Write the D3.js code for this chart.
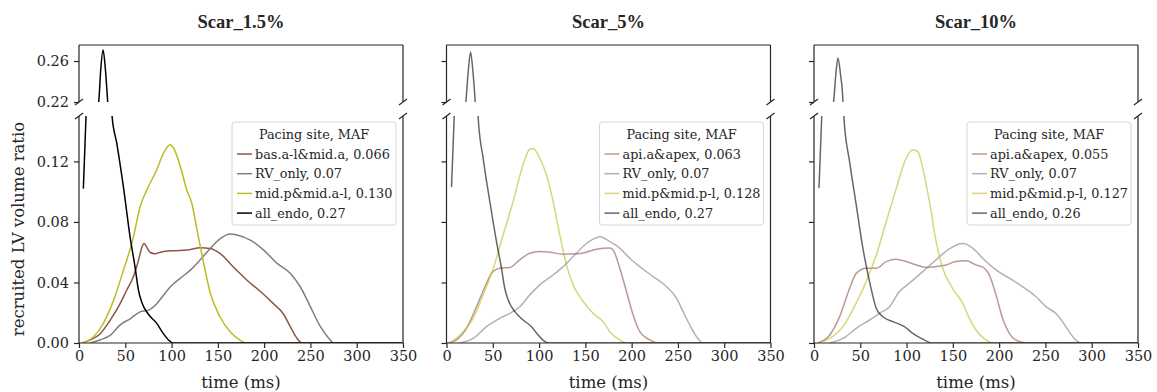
<!DOCTYPE html>
<html>
<head>
<meta charset="utf-8">
<script src="https://cdn.jsdelivr.net/npm/d3@7.9.0/dist/d3.min.js"></script>
<style>
  body { margin: 0; background: #fff; }
  svg { display: block; }
  text { font-family: "DejaVu Serif", serif; fill: #262626; }
  .title { font-family: "Liberation Serif", "Times New Roman", serif; font-weight: bold; font-size: 18.5px; }
</style>
</head>
<body>
<div id="chart"></div>
<script>
// --- data (time in ms, recruited LV volume ratio) ---
const titles = ["Scar_1.5%", "Scar_5%", "Scar_10%"];
const seriesNames = [
  ["bas.a-l&mid.a, 0.066", "RV_only, 0.07", "mid.p&mid.a-l, 0.130", "all_endo, 0.27"],
  ["api.a&apex, 0.063", "RV_only, 0.07", "mid.p&mid.p-l, 0.128", "all_endo, 0.27"],
  ["api.a&apex, 0.055", "RV_only, 0.07", "mid.p&mid.p-l, 0.127", "all_endo, 0.26"]
];
const xTicks = [0, 50, 100, 150, 200, 250, 300, 350];
const yTicksLow = [0, 0.04, 0.08, 0.12];
const yTicksHigh = [0.22, 0.26];

// Scar 1.5%
const s1Site = [[3,0],[12,0.002],[22.7,0.006],[33.6,0.015],[44.4,0.026],[51.6,0.035],[58.8,0.044],[64,0.054],[67.5,0.0625],
  [70.4,0.0658],[73,0.0635],[77,0.0598],[82,0.059],[88,0.060],[102,0.061],[116.5,0.0614],[131,0.063],[141.8,0.0625],
  [152.6,0.059],[167,0.050],[181.5,0.0415],[196,0.034],[210,0.026],[221,0.019],[228.4,0.0106],[235.6,0.003],[241,0],[350,0]];
const s1RV = [[12,0],[22.7,0.002],[33.6,0.005],[44.4,0.012],[55.2,0.016],[66,0.0206],[75,0.0217],[84,0.026],[91.3,0.0316],
  [98.5,0.037],[109.3,0.0427],[120,0.048],[131,0.055],[141.8,0.0625],[152.6,0.069],[163.5,0.072],[170.7,0.0714],[185,0.068],
  [199.5,0.0614],[214,0.0526],[228.4,0.046],[239.2,0.037],[250,0.0239],[261,0.0106],[270,0.003],[275,0],[350,0]];
const s1Mid = [[3,0],[15.5,0.004],[26.3,0.013],[37.2,0.028],[48,0.048],[58.8,0.070],[66,0.090],[73.2,0.101],[84,0.1145],
  [91.3,0.1255],[98.5,0.131],[102,0.129],[109.3,0.117],[116.5,0.101],[122,0.092],[127.4,0.075],[134.6,0.053],[141.8,0.033],
  [152.6,0.017],[163.5,0.0073],[174.3,0.0018],[179.7,0],[350,0]];
const s1Endo = [[4.7,0.102],[7.6,0.15],[14,0.19],[21.3,0.22],[23.5,0.252],[26,0.2707],[28.5,0.252],[31,0.22],[35.7,0.15],
  [40.8,0.132],[48,0.103],[55.2,0.070],[60.6,0.050],[64.2,0.035],[67.8,0.027],[75,0.019],[84,0.013],[91.3,0.006],
  [98.5,0.001],[102,0],[350,0]];

// Scar 5%
const s2Site = [[2,0],[10.8,0.002],[21.6,0.0097],[32.4,0.024],[41.4,0.037],[48.6,0.046],[57.6,0.0494],[68.4,0.0499],
  [79.2,0.055],[90,0.0593],[100.8,0.0605],[111.6,0.060],[126,0.0587],[140.4,0.0589],[151.2,0.060],[162,0.062],
  [176.4,0.0627],[180,0.0615],[187.2,0.0494],[194.4,0.034],[201.6,0.0185],[208.8,0.0075],[219.6,0.002],[228.6,0],[350,0]];
const s2RV = [[14.4,0],[28.8,0.003],[43.2,0.0108],[57.6,0.0163],[68.4,0.0196],[79.2,0.024],[90,0.0318],[100.8,0.0384],
  [115.2,0.045],[126,0.0505],[136.8,0.0571],[147.6,0.0638],[158.4,0.0686],[165.6,0.0702],[176.4,0.067],[187.2,0.0627],
  [198,0.056],[208.8,0.0505],[223.2,0.0439],[237.6,0.0373],[248.4,0.0296],[255.6,0.0207],[262.8,0.0119],[270,0.0042],
  [277,0],[350,0]];
const s2Mid = [[3.6,0],[18,0.0075],[28.8,0.0163],[39.6,0.0318],[50.4,0.049],[61.2,0.0715],[72,0.0935],[82.8,0.118],
  [90,0.128],[93.6,0.1285],[100.8,0.122],[108,0.111],[115.2,0.0935],[122.4,0.0715],[129.6,0.0516],[136.8,0.0384],
  [147.6,0.0274],[158.4,0.0196],[169.2,0.014],[176.4,0.0075],[187.2,0.002],[194.4,0],[350,0]];
const s2Endo = [[5.4,0.103],[8.3,0.149],[14,0.188],[20.9,0.22],[23.5,0.25],[26,0.2688],[28.5,0.25],[31,0.22],[34.2,0.149],
  [39.6,0.122],[46.8,0.0935],[54,0.067],[59.4,0.0494],[63,0.036],[66.6,0.0285],[73.8,0.0207],[82.8,0.0152],
  [91.8,0.0108],[99,0.0053],[106,0.001],[110,0],[350,0]];

// Scar 10%
const s3Site = [[4.3,0],[17,0.0053],[27.7,0.0174],[38.4,0.036],[45.6,0.046],[56.4,0.0494],[67.2,0.0494],[78,0.0538],
  [88.8,0.0554],[99.5,0.0538],[110.3,0.0516],[121,0.0499],[131.9,0.0505],[142.6,0.0516],[153.4,0.0538],[164.2,0.0543],
  [175,0.0516],[184,0.0494],[189.4,0.045],[196.6,0.0318],[203.7,0.0163],[211,0.0064],[218,0.002],[229,0],[350,0]];
const s3RV = [[17,0],[31.3,0.003],[45.6,0.0097],[60,0.0152],[70.8,0.0196],[81.6,0.024],[92.3,0.034],[103,0.0395],
  [117.5,0.0472],[131.9,0.055],[146.2,0.0622],[160.6,0.0657],[171.4,0.0627],[182.2,0.056],[196.6,0.0483],[211,0.0428],
  [225.2,0.0373],[239.6,0.0307],[250.5,0.024],[261.2,0.0196],[268.4,0.0141],[275.6,0.0075],[282.8,0.002],[288,0],[350,0]];
const s3Mid = [[4.3,0],[17,0.003],[31.3,0.0108],[45.6,0.0263],[56.4,0.0406],[67.2,0.058],[78,0.080],[88.8,0.102],
  [99.5,0.122],[106.7,0.1277],[112,0.1266],[117.5,0.1156],[124.7,0.0935],[131.9,0.067],[139,0.0494],[149.9,0.036],
  [160.6,0.0263],[167.8,0.0163],[175,0.0086],[185.6,0.002],[193,0],[350,0]];
const s3Endo = [[5.4,0.1024],[8.3,0.149],[14,0.188],[21.2,0.22],[23.7,0.248],[25.9,0.2629],[28.5,0.248],[31.3,0.22],
  [32.3,0.149],[38.4,0.12],[45.6,0.0913],[52.8,0.0627],[60,0.0406],[67.2,0.023],[74.4,0.0174],[85.2,0.0141],
  [97.7,0.0108],[106.7,0.0064],[117.5,0.0026],[128,0],[350,0]];

const seriesData = [
  [s1Site, s1RV, s1Mid, s1Endo],
  [s2Site, s2RV, s2Mid, s2Endo],
  [s3Site, s3RV, s3Mid, s3Endo]
];
const colors = ["#8c564b", "#7f7f7f", "#bcbd22", "#000000"];
const panelOpacity = [1, 0.6, 0.6];

// --- layout ---
const W = 1157, H = 392;
const panelLeft = [79, 446.5, 814];
const pw = 324;
const upTop = 45, upBottom = 102, lowTop = 116, lowBottom = 343;
const axisColor = "#262626";

const svg = d3.select("#chart").append("svg").attr("width", W).attr("height", H);

const x = d3.scaleLinear().domain([0, 350]).range([0, pw]);
const yLow = d3.scaleLinear().domain([0, 0.15]).range([lowBottom - lowTop, 0]);
const yHigh = d3.scaleLinear().domain([0.22, 0.2756]).range([upBottom - upTop, 0]);

titles.forEach((title, p) => {
  const left = panelLeft[p];

  svg.append("text").attr("class", "title")
    .attr("x", left + pw / 2).attr("y", 28)
    .attr("text-anchor", "middle").text(title);

  // clip paths
  svg.append("clipPath").attr("id", `clipLow${p}`)
    .append("rect").attr("width", pw).attr("height", lowBottom - lowTop);
  svg.append("clipPath").attr("id", `clipHigh${p}`)
    .append("rect").attr("width", pw).attr("height", upBottom - upTop);

  const gLow = svg.append("g").attr("transform", `translate(${left},${lowTop})`);
  const gHigh = svg.append("g").attr("transform", `translate(${left},${upTop})`);

  const lineLow = d3.line().x(d => x(d[0])).y(d => yLow(d[1])).curve(d3.curveMonotoneX);
  const lineHigh = d3.line().x(d => x(d[0])).y(d => yHigh(d[1])).curve(d3.curveMonotoneX);

  // lines
  const dataP = seriesData[p];
  gLow.append("g").attr("clip-path", `url(#clipLow${p})`)
    .selectAll("path").data(dataP).join("path")
      .attr("d", lineLow)
      .attr("fill", "none")
      .attr("stroke", (d, i) => colors[i])
      .attr("stroke-opacity", panelOpacity[p])
      .attr("stroke-width", 1.5);
  gHigh.append("g").attr("clip-path", `url(#clipHigh${p})`)
    .selectAll("path").data(dataP).join("path")
      .attr("d", lineHigh)
      .attr("fill", "none")
      .attr("stroke", (d, i) => colors[i])
      .attr("stroke-opacity", panelOpacity[p])
      .attr("stroke-width", 1.5);

  // axes
  const xAxis = gLow.append("g").attr("transform", `translate(0,${lowBottom - lowTop})`)
    .call(d3.axisBottom(x).tickValues(xTicks).tickSize(5).tickPadding(3).tickFormat(d3.format("d")));
  const yAxisL = gLow.append("g")
    .call(d3.axisLeft(yLow).tickValues(yTicksLow).tickSize(5).tickPadding(5)
      .tickFormat(p === 0 ? d3.format(".2f") : () => ""));
  const yAxisH = gHigh.append("g")
    .call(d3.axisLeft(yHigh).tickValues(yTicksHigh).tickSize(5).tickPadding(5)
      .tickFormat(p === 0 ? d3.format(".2f") : () => ""));
  [xAxis, yAxisL, yAxisH].forEach(a => {
    a.select(".domain").remove();
    a.selectAll("line").attr("stroke", axisColor).attr("stroke-width", 1.2);
    a.selectAll("text").style("font-size", "14.5px").attr("fill", axisColor);
  });

  // spines
  const spine = (g, x1, y1, x2, y2) => g.append("line")
    .attr("x1", x1).attr("y1", y1).attr("x2", x2).attr("y2", y2)
    .attr("stroke", axisColor).attr("stroke-width", 1.2);
  const hl = lowBottom - lowTop, hh = upBottom - upTop;
  spine(gLow, 0, 0, 0, hl); spine(gLow, pw, 0, pw, hl); spine(gLow, 0, hl, pw, hl);
  spine(gHigh, 0, 0, 0, hh); spine(gHigh, pw, 0, pw, hh); spine(gHigh, 0, 0, pw, 0);

  // break marks
  const d = 4;
  [0, pw].forEach(xx => {
    spine(gHigh, xx - d, hh + 3, xx + d, hh - 3);
    spine(gLow, xx - d, 3, xx + d, -3);
  });

  // x label
  svg.append("text")
    .attr("x", left + pw / 2).attr("y", 388)
    .attr("text-anchor", "middle").style("font-size", "16.5px")
    .text("time (ms)");

  // legend
  const lgX = left + pw - 171, lgY = 122, lgW = 164, lgH = 103;
  const lg = svg.append("g").attr("transform", `translate(${lgX},${lgY})`);
  lg.append("rect").attr("width", lgW).attr("height", lgH).attr("rx", 3)
    .attr("fill", "#fff").attr("fill-opacity", 0.85)
    .attr("stroke", "#d6d6d6").attr("stroke-width", 1);
  lg.append("text").attr("x", lgW / 2).attr("y", 17)
    .attr("text-anchor", "middle").style("font-size", "12.8px")
    .text("Pacing site, MAF");
  seriesNames[p].forEach((name, i) => {
    const yy = 32 + i * 19.7;
    lg.append("line").attr("x1", 5).attr("x2", 20).attr("y1", yy).attr("y2", yy)
      .attr("stroke", colors[i]).attr("stroke-opacity", panelOpacity[p]).attr("stroke-width", 1.5);
    lg.append("text").attr("x", 23).attr("y", yy + 4.5)
      .style("font-size", "12.8px").text(name);
  });
});

// y label
svg.append("text")
  .attr("transform", "translate(24,229) rotate(-90)")
  .attr("text-anchor", "middle").style("font-size", "16.5px")
  .text("recruited LV volume ratio");
</script>
</body>
</html>
